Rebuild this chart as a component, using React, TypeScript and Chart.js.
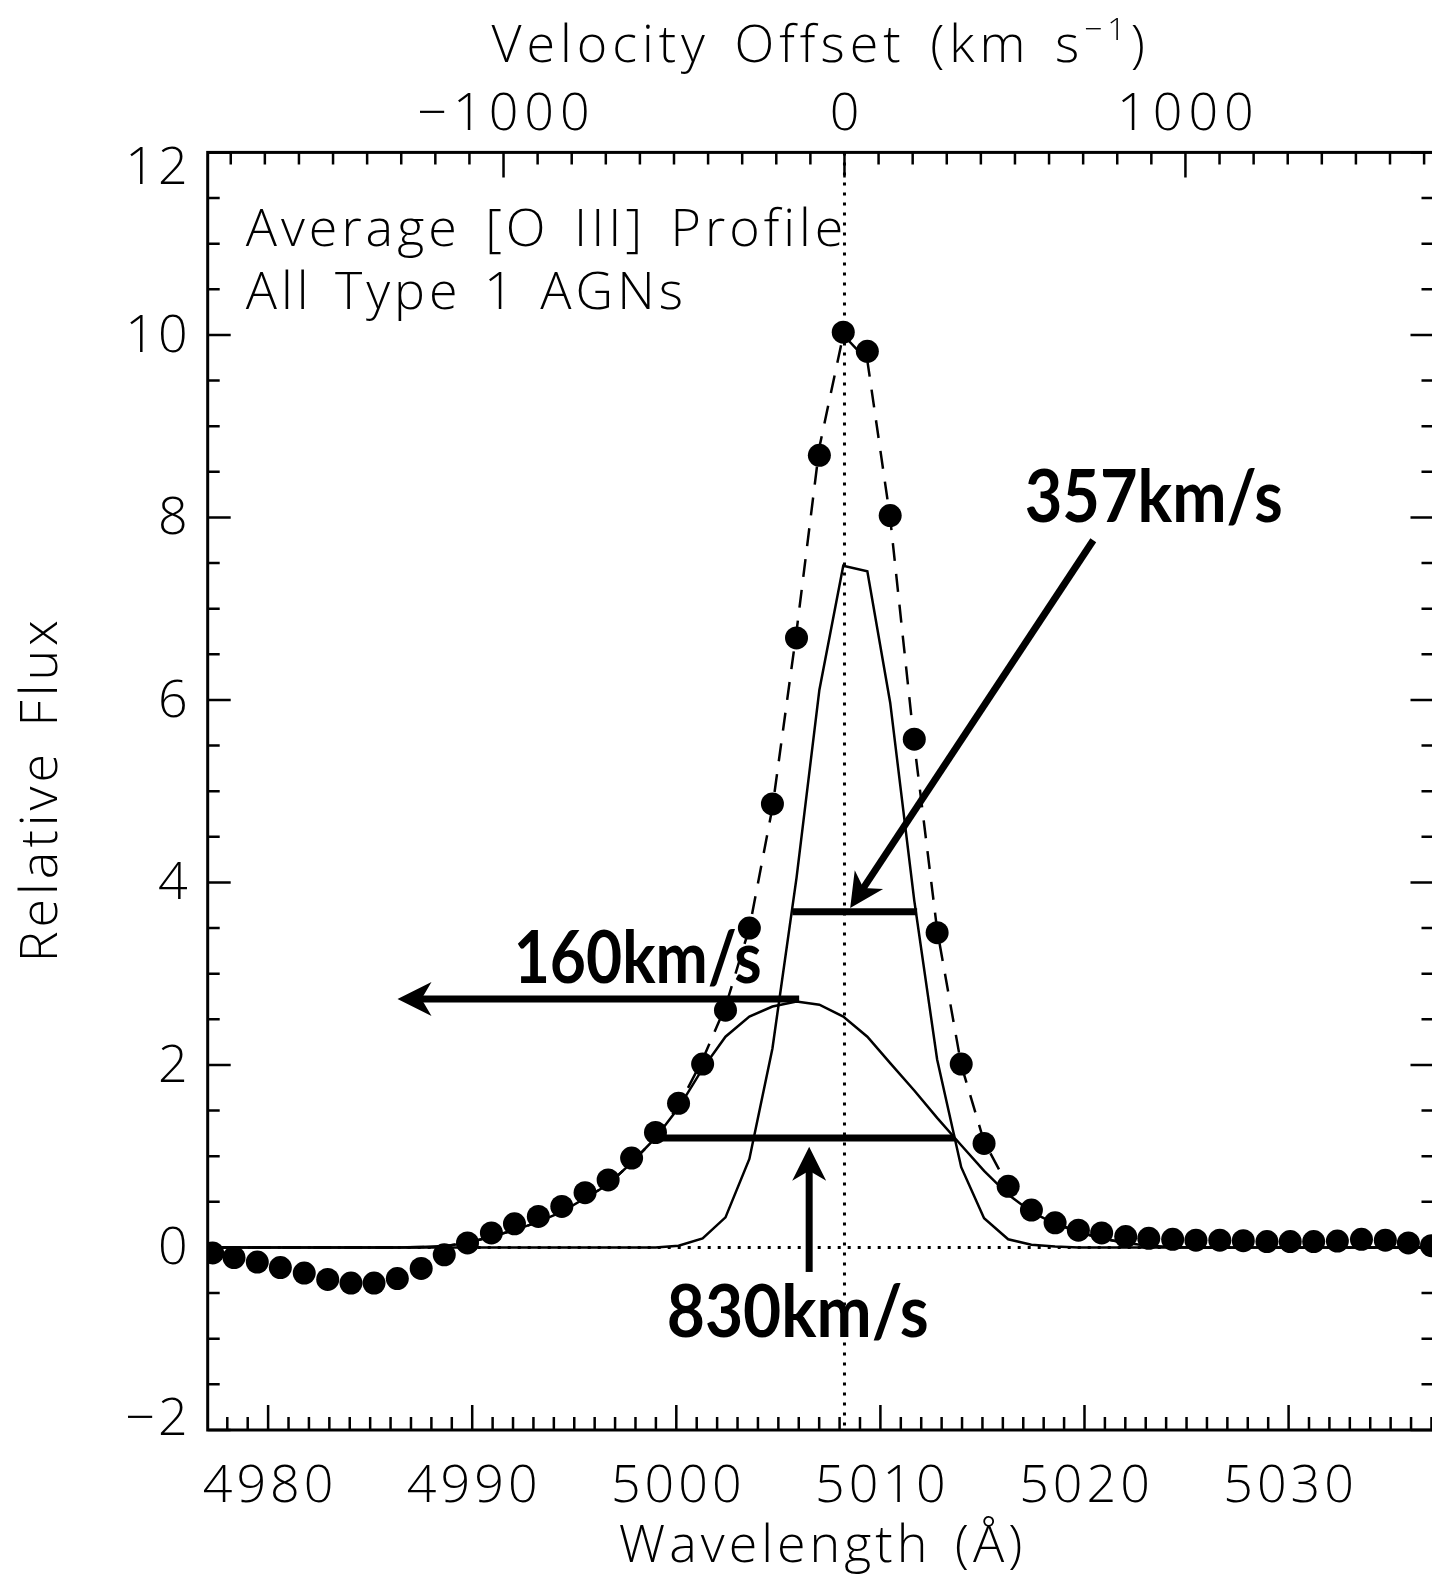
import React, { useEffect, useRef } from 'react';
import { Chart, registerables } from 'chart.js';

Chart.register(...registerables);

// ---------- data ----------
const wavelength = [
  4976.14, 4977.28, 4978.33, 4979.47, 4980.6, 4981.77, 4982.92, 4984.06, 4985.19, 4986.33,
  4987.5, 4988.63, 4989.77, 4990.94, 4992.07, 4993.24, 4994.39, 4995.53, 4996.66, 4997.81,
  4998.98, 5000.11, 5001.29, 5002.41, 5003.58, 5004.71, 5005.89, 5007.01, 5008.18, 5009.36,
  5010.48, 5011.66, 5012.78, 5013.96, 5015.08, 5016.26, 5017.4, 5018.56, 5019.7, 5020.84,
  5022.02, 5023.15, 5024.32, 5025.46, 5026.63, 5027.78, 5028.94, 5030.08, 5031.23, 5032.39,
  5033.57, 5034.74, 5035.87, 5037.0, 5038.15,
];

const flux = [
  -0.04, -0.06, -0.11, -0.16, -0.22, -0.28, -0.35, -0.39, -0.39, -0.34,
  -0.23, -0.08, 0.05, 0.16, 0.26, 0.34, 0.45, 0.6, 0.74, 0.98,
  1.26, 1.58, 2.01, 2.6, 3.5, 4.86, 6.68, 8.68, 10.03, 9.82,
  8.02, 5.57, 3.45, 2.01, 1.14, 0.67, 0.41, 0.27, 0.19, 0.16,
  0.12, 0.1, 0.09, 0.08, 0.08, 0.075, 0.065, 0.065, 0.065, 0.07,
  0.09, 0.08, 0.05, 0.02, 0.03,
];

const broadComponent = [
  0, 0, 0, 0, 0, 0, 0, 0, 0, 0,
  0.005, 0.015, 0.05, 0.12, 0.19, 0.28, 0.39, 0.54, 0.69, 0.93,
  1.2, 1.53, 1.96, 2.31, 2.53, 2.64, 2.695, 2.66, 2.53, 2.31,
  2.02, 1.72, 1.42, 1.12, 0.84, 0.58, 0.39, 0.26, 0.17, 0.1,
  0.05, 0.02, 0.005, 0, 0, 0, 0, 0, 0, 0,
  0, 0, 0, 0, 0,
];

const narrowComponent = [
  0, 0, 0, 0, 0, 0, 0, 0, 0, 0,
  0, 0, 0, 0, 0, 0, 0, 0, 0, 0,
  0, 0.02, 0.1, 0.33, 0.97, 2.18, 4.05, 6.11, 7.47, 7.41,
  5.97, 3.8, 2.06, 0.88, 0.32, 0.09, 0.03, 0.01, 0, 0,
  0, 0, 0, 0, 0, 0, 0, 0, 0, 0,
  0, 0, 0, 0, 0,
];

const totalFit = [
  0, 0, 0, 0, 0, 0, 0, 0, 0, 0,
  0.005, 0.015, 0.05, 0.12, 0.19, 0.28, 0.39, 0.54, 0.69, 0.93,
  1.2, 1.55, 2.06, 2.64, 3.5, 4.82, 6.75, 8.77, 10.0, 9.72,
  7.99, 5.52, 3.48, 2.0, 1.16, 0.67, 0.42, 0.27, 0.17, 0.1,
  0.05, 0.02, 0.005, 0, 0, 0, 0, 0, 0, 0,
  0, 0, 0, 0, 0,
];

const xTickLabels = [4980, 4990, 5000, 5010, 5020, 5030];
const velocityTickLabels = [-1000, 0, 1000];
const yTickLabels = [12, 10, 8, 6, 4, 2, 0, -2];

const X_MIN = 4977.04;
const X_MAX = 5037.1;
const Y_MIN = -2;
const Y_MAX = 12;
const LAMBDA0 = 5008.24;
const C_KMS = 299792.458;

// annotation anchors (data coordinates)
const narrowBar = { x1: 5005.69, x2: 5011.8, y: 3.68 };
const broadBar = { x1: 4999.25, x2: 5013.66, y: 1.2 };
const arrows = [
  { x1: 5020.43, y1: 7.75, x2: 5008.52, y2: 3.72 },
  { x1: 5006.02, y1: 2.723, x2: 4986.34, y2: 2.723 },
  { x1: 5006.51, y1: -0.268, x2: 5006.51, y2: 1.105 },
];
const labels = [
  { text: '357km/s', x: 5017.07, y: 7.95, w: 258 },
  { text: '160km/s', x: 4992.03, y: 2.895, w: 248 },
  { text: '830km/s', x: 4999.53, y: -0.986, w: 262 },
];
const headerLines = ['Average [O III] Profile', 'All Type 1 AGNs'];

const toPoints = (ys: number[]) => ys.map((y, i) => ({ x: wavelength[i], y }));
const velocityOf = (lam: number) => (C_KMS * (lam - LAMBDA0)) / LAMBDA0;

const AXIS_FONT = '300 52px "Open Sans", "DejaVu Sans", sans-serif';
const SUP_FONT = '300 32px "Open Sans", "DejaVu Sans", sans-serif';
const ANNO_FONT = 'bold 72px Lato, "Open Sans", sans-serif';

function setSpacing(ctx: any, letter: number, word: number) {
  ctx.letterSpacing = letter + 'px';
  ctx.wordSpacing = word + 'px';
}

function drawArrow(ctx: CanvasRenderingContext2D, x1: number, y1: number, x2: number, y2: number) {
  const ang = Math.atan2(y2 - y1, x2 - x1);
  const headLen = 34;
  const halfW = 17;
  const notch = 24;
  ctx.save();
  ctx.strokeStyle = '#000';
  ctx.fillStyle = '#000';
  ctx.lineWidth = 7;
  ctx.lineCap = 'butt';
  ctx.beginPath();
  ctx.moveTo(x1, y1);
  ctx.lineTo(x2 - Math.cos(ang) * (notch - 2), y2 - Math.sin(ang) * (notch - 2));
  ctx.stroke();
  ctx.translate(x2, y2);
  ctx.rotate(ang);
  ctx.beginPath();
  ctx.moveTo(0, 0);
  ctx.lineTo(-headLen, -halfW);
  ctx.lineTo(-notch, 0);
  ctx.lineTo(-headLen, halfW);
  ctx.closePath();
  ctx.fill();
  ctx.restore();
}

const figurePlugin = {
  id: 'figurePlugin',
  beforeDatasetsDraw(chart: any) {
    const { ctx, chartArea: a, scales } = chart;
    const xs = scales.x;
    const ys = scales.y;
    ctx.save();
    ctx.strokeStyle = '#000';
    ctx.lineWidth = 3;
    ctx.setLineDash([3, 7]);
    ctx.beginPath();
    const y0 = ys.getPixelForValue(0);
    ctx.moveTo(a.left, y0);
    ctx.lineTo(a.right, y0);
    const xv = xs.getPixelForValue(LAMBDA0);
    ctx.moveTo(xv, a.top);
    ctx.lineTo(xv, a.bottom);
    ctx.stroke();
    ctx.restore();
  },
  afterDatasetsDraw(chart: any) {
    const { ctx, chartArea: a, scales } = chart;
    const xs = scales.x;
    const ys = scales.y;
    const x2 = scales.x2;
    ctx.save();
    ctx.strokeStyle = '#000';
    ctx.fillStyle = '#000';
    ctx.setLineDash([]);

    // FWHM bars
    ctx.lineWidth = 7;
    for (const b of [narrowBar, broadBar]) {
      ctx.beginPath();
      ctx.moveTo(xs.getPixelForValue(b.x1), ys.getPixelForValue(b.y));
      ctx.lineTo(xs.getPixelForValue(b.x2), ys.getPixelForValue(b.y));
      ctx.stroke();
    }
    // arrows
    for (const ar of arrows) {
      drawArrow(
        ctx,
        xs.getPixelForValue(ar.x1),
        ys.getPixelForValue(ar.y1),
        xs.getPixelForValue(ar.x2),
        ys.getPixelForValue(ar.y2)
      );
    }
    // annotation labels
    ctx.font = ANNO_FONT;
    ctx.textAlign = 'left';
    ctx.textBaseline = 'alphabetic';
    setSpacing(ctx, 0, 0);
    for (const l of labels) {
      const m = ctx.measureText(l.text).width;
      const sx = l.w / m;
      ctx.save();
      ctx.translate(xs.getPixelForValue(l.x), ys.getPixelForValue(l.y));
      ctx.scale(sx, 1);
      ctx.fillText(l.text, 0, 0);
      ctx.restore();
    }

    // frame
    ctx.lineWidth = 3;
    ctx.strokeRect(a.left, a.top, a.right - a.left, a.bottom - a.top);

    // ticks
    ctx.lineWidth = 2.5;
    ctx.beginPath();
    for (let v = Math.ceil(X_MIN); v <= Math.floor(X_MAX); v++) {
      const px = xs.getPixelForValue(v);
      const len = v % 10 === 0 ? 25 : 13;
      ctx.moveTo(px, a.bottom);
      ctx.lineTo(px, a.bottom - len);
    }
    const vMin = velocityOf(X_MIN);
    const vMax = velocityOf(X_MAX);
    for (let v = Math.ceil(vMin / 100) * 100; v <= vMax; v += 100) {
      const px = x2.getPixelForValue(v);
      const len = v % 1000 === 0 ? 25 : 12;
      ctx.moveTo(px, a.top);
      ctx.lineTo(px, a.top + len);
    }
    for (let k = Y_MIN * 2; k <= Y_MAX * 2; k++) {
      const v = k / 2;
      const py = ys.getPixelForValue(v);
      const len = k % 4 === 0 ? 23 : 12;
      ctx.moveTo(a.left, py);
      ctx.lineTo(a.left + len, py);
      ctx.moveTo(a.right, py);
      ctx.lineTo(a.right - len, py);
    }
    ctx.stroke();

    // tick labels
    ctx.font = AXIS_FONT;
    ctx.textAlign = 'center';
    ctx.textBaseline = 'alphabetic';
    setSpacing(ctx, 4, 0);
    for (const t of xTickLabels) {
      ctx.fillText(String(t), xs.getPixelForValue(t) + 2, a.bottom + 72);
    }
    setSpacing(ctx, 6, 0);
    for (const t of velocityTickLabels) {
      const s = t < 0 ? '\u2212' + Math.abs(t) : String(t);
      ctx.fillText(s, x2.getPixelForValue(t) + 3, a.top - 22);
    }
    setSpacing(ctx, 3, 0);
    ctx.textAlign = 'right';
    ctx.textBaseline = 'middle';
    for (const t of yTickLabels) {
      const s = t < 0 ? '\u2212' + Math.abs(t) : String(t);
      let py = ys.getPixelForValue(t);
      py = Math.min(Math.max(py, a.top + 15), a.bottom - 12);
      ctx.fillText(s, a.left - 17, py + 2);
    }

    // axis titles
    ctx.textBaseline = 'alphabetic';
    ctx.textAlign = 'center';
    const cx = (a.left + a.right) / 2;
    setSpacing(ctx, 4, 6);
    ctx.fillText('Wavelength (\u00C5)', cx + 2, a.bottom + 132);

    // top title with superscript
    const partA = 'Velocity Offset (km s';
    const partSup = '\u22121';
    const partB = ')';
    setSpacing(ctx, 5, 6);
    ctx.font = AXIS_FONT;
    const wA = ctx.measureText(partA).width;
    const wB = ctx.measureText(partB).width;
    ctx.font = SUP_FONT;
    const wS = ctx.measureText(partSup).width;
    const total = wA + wS + wB;
    let tx = cx - total / 2;
    const tb = a.top - 90;
    ctx.textAlign = 'left';
    ctx.font = AXIS_FONT;
    ctx.fillText(partA, tx, tb);
    tx += wA;
    ctx.font = SUP_FONT;
    ctx.fillText(partSup, tx, tb - 22);
    tx += wS;
    ctx.font = AXIS_FONT;
    ctx.fillText(partB, tx, tb);

    // y title
    ctx.save();
    ctx.translate(a.left - 166, (a.top + a.bottom) / 2);
    ctx.rotate(-Math.PI / 2);
    ctx.textAlign = 'center';
    ctx.textBaseline = 'middle';
    setSpacing(ctx, 4, 6);
    ctx.fillText('Relative Flux', 2, 0);
    ctx.restore();

    // header text
    ctx.textAlign = 'left';
    ctx.textBaseline = 'alphabetic';
    setSpacing(ctx, 4, 7);
    ctx.fillText(headerLines[0], a.left + 38, a.top + 94);
    setSpacing(ctx, 4, 5);
    ctx.fillText(headerLines[1], a.left + 38, a.top + 157);

    setSpacing(ctx, 0, 0);
    ctx.restore();
  },
};

export default function App() {
  const canvasRef = useRef<HTMLCanvasElement | null>(null);

  useEffect(() => {
    if (!canvasRef.current) return;
    const chart = new Chart(canvasRef.current, {
      type: 'scatter',
      data: {
        datasets: [
          {
            label: 'Data',
            data: toPoints(flux),
            showLine: false,
            pointRadius: 11.5,
            pointHoverRadius: 11.5,
            pointBackgroundColor: '#000',
            pointBorderWidth: 0,
            backgroundColor: '#000',
          },
          {
            label: 'Narrow',
            data: toPoints(narrowComponent),
            showLine: true,
            pointRadius: 0,
            borderColor: '#000',
            borderWidth: 2.5,
            tension: 0,
          },
          {
            label: 'Broad',
            data: toPoints(broadComponent),
            showLine: true,
            pointRadius: 0,
            borderColor: '#000',
            borderWidth: 2.5,
            tension: 0,
          },
          {
            label: 'Total',
            data: toPoints(totalFit),
            showLine: true,
            pointRadius: 0,
            borderColor: '#000',
            borderWidth: 2.5,
            borderDash: [18, 13],
            tension: 0,
          },
        ],
      },
      options: {
        responsive: false,
        animation: false,
        devicePixelRatio: 1,
        layout: { padding: { left: 207.7, top: 152.4, right: 6, bottom: 147 } },
        plugins: { legend: { display: false }, tooltip: { enabled: false } },
        events: [],
        scales: {
          x: { type: 'linear', min: X_MIN, max: X_MAX, display: false },
          x2: {
            type: 'linear',
            position: 'top',
            min: velocityOf(X_MIN),
            max: velocityOf(X_MAX),
            display: false,
          },
          y: { type: 'linear', min: Y_MIN, max: Y_MAX, display: false },
        },
      } as any,
      plugins: [figurePlugin],
    });
    return () => chart.destroy();
  }, []);

  return (
    <div
      style={{
        position: 'fixed',
        left: 0,
        top: 0,
        width: 1432,
        height: 1577,
        overflow: 'hidden',
        background: '#fff',
      }}
    >
      <canvas ref={canvasRef} width={1445} height={1577} style={{ display: 'block' }} />
    </div>
  );
}
